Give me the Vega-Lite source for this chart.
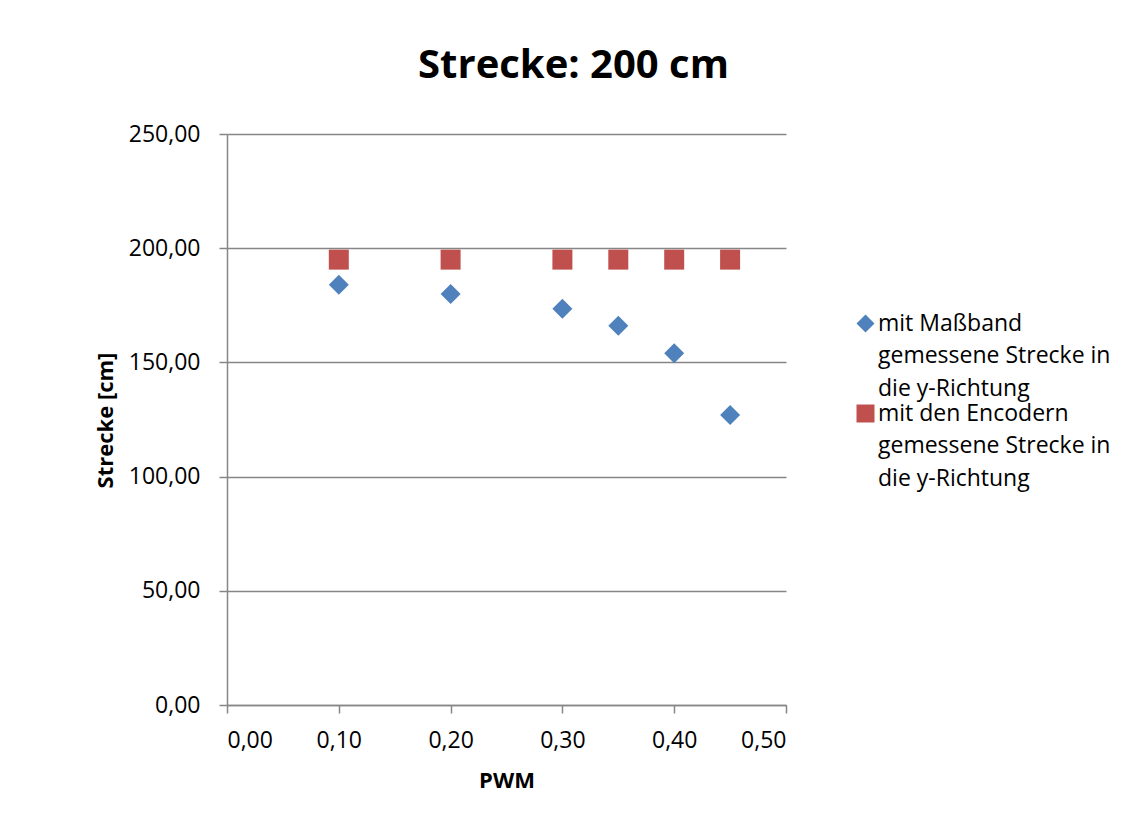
{
  "$schema": "https://vega.github.io/schema/vega-lite/v6.json",
  "autosize": {"type": "none"},
  "width": 559,
  "height": 571,
  "padding": {"left": 227, "top": 134, "right": 347, "bottom": 121},
  "background": "white",
  "title": {
    "text": "Strecke: 200 cm",
    "font": "Open Sans",
    "fontSize": 40,
    "fontWeight": "bold",
    "color": "#000000",
    "anchor": "middle",
    "baseline": "alphabetic",
    "offset": 5,
    "dx": 67
  },
  "data": {
    "values": [
      {"pwm": 0.10, "strecke": 184.0, "serie": "mit Maßband gemessene Strecke in die y-Richtung"},
      {"pwm": 0.20, "strecke": 180.0, "serie": "mit Maßband gemessene Strecke in die y-Richtung"},
      {"pwm": 0.30, "strecke": 173.5, "serie": "mit Maßband gemessene Strecke in die y-Richtung"},
      {"pwm": 0.35, "strecke": 166.0, "serie": "mit Maßband gemessene Strecke in die y-Richtung"},
      {"pwm": 0.40, "strecke": 154.0, "serie": "mit Maßband gemessene Strecke in die y-Richtung"},
      {"pwm": 0.45, "strecke": 127.0, "serie": "mit Maßband gemessene Strecke in die y-Richtung"},
      {"pwm": 0.10, "strecke": 195.0, "serie": "mit den Encodern gemessene Strecke in die y-Richtung"},
      {"pwm": 0.20, "strecke": 195.0, "serie": "mit den Encodern gemessene Strecke in die y-Richtung"},
      {"pwm": 0.30, "strecke": 195.0, "serie": "mit den Encodern gemessene Strecke in die y-Richtung"},
      {"pwm": 0.35, "strecke": 195.0, "serie": "mit den Encodern gemessene Strecke in die y-Richtung"},
      {"pwm": 0.40, "strecke": 195.0, "serie": "mit den Encodern gemessene Strecke in die y-Richtung"},
      {"pwm": 0.45, "strecke": 195.0, "serie": "mit den Encodern gemessene Strecke in die y-Richtung"}
    ]
  },
  "mark": {"type": "point", "filled": true, "opacity": 1, "size": 400, "strokeWidth": 0},
  "encoding": {
    "x": {
      "field": "pwm",
      "type": "quantitative",
      "scale": {"domain": [0, 0.5], "nice": false, "zero": true},
      "axis": {
        "title": "PWM",
        "values": [0, 0.1, 0.2, 0.3, 0.4, 0.5],
        "format": ".2f",
        "labelExpr": "replace(datum.label, '.', ',')",
        "grid": false,
        "tickSize": 8,
        "labelPadding": 16,
        "titleY": 82,
        "titleBaseline": "alphabetic"
      }
    },
    "y": {
      "field": "strecke",
      "type": "quantitative",
      "scale": {"domain": [0, 250], "nice": false},
      "axis": {
        "title": "Strecke [cm]",
        "values": [0, 50, 100, 150, 200, 250],
        "format": ".2f",
        "labelExpr": "replace(datum.label, '.', ',')",
        "grid": true,
        "tickSize": 8,
        "labelPadding": 19,
        "titleX": -115,
        "titleY": 286,
        "titleAngle": -90,
        "titleAlign": "center",
        "titleBaseline": "alphabetic"
      }
    },
    "color": {
      "field": "serie",
      "type": "nominal",
      "scale": {
        "domain": ["mit Maßband gemessene Strecke in die y-Richtung", "mit den Encodern gemessene Strecke in die y-Richtung"],
        "range": ["#4F81BD", "#C0504D"]
      },
      "legend": {
        "title": null,
        "orient": "none",
        "legendX": 627,
        "legendY": 178,
        "padding": 0,
        "symbolSize": 324,
        "labelOffset": 1,
        "labelLimit": 400,
        "labelBaseline": "middle",
        "rowPadding": 1,
        "labelExpr": "datum.value == 'mit Maßband gemessene Strecke in die y-Richtung' ? ['mit Maßband', 'gemessene Strecke in', 'die y-Richtung'] : ['mit den Encodern', 'gemessene Strecke in', 'die y-Richtung']",
        "encode": {
          "labels": {"update": {"lineHeight": {"value": 32.5}}}
        }
      }
    },
    "shape": {
      "field": "serie",
      "type": "nominal",
      "scale": {
        "domain": ["mit Maßband gemessene Strecke in die y-Richtung", "mit den Encodern gemessene Strecke in die y-Richtung"],
        "range": ["diamond", "square"]
      },
      "legend": null
    }
  },
  "config": {
    "view": {"stroke": null},
    "font": "Open Sans",
    "style": {
      "guide-label": {"lineHeight": 32.5}
    },
    "axis": {
      "domainColor": "#868686",
      "domainWidth": 1.5,
      "tickColor": "#868686",
      "tickWidth": 1.5,
      "gridColor": "#868686",
      "gridWidth": 1.5,
      "gridOpacity": 1,
      "labelFont": "Open Sans",
      "labelFontSize": 23,
      "labelColor": "#000000",
      "titleFont": "Open Sans",
      "titleFontSize": 22,
      "titleFontWeight": "bold",
      "titleColor": "#000000"
    },
    "legend": {
      "labelFont": "Open Sans",
      "labelFontSize": 23,
      "labelColor": "#000000",
      "symbolStrokeWidth": 0
    }
  }
}
